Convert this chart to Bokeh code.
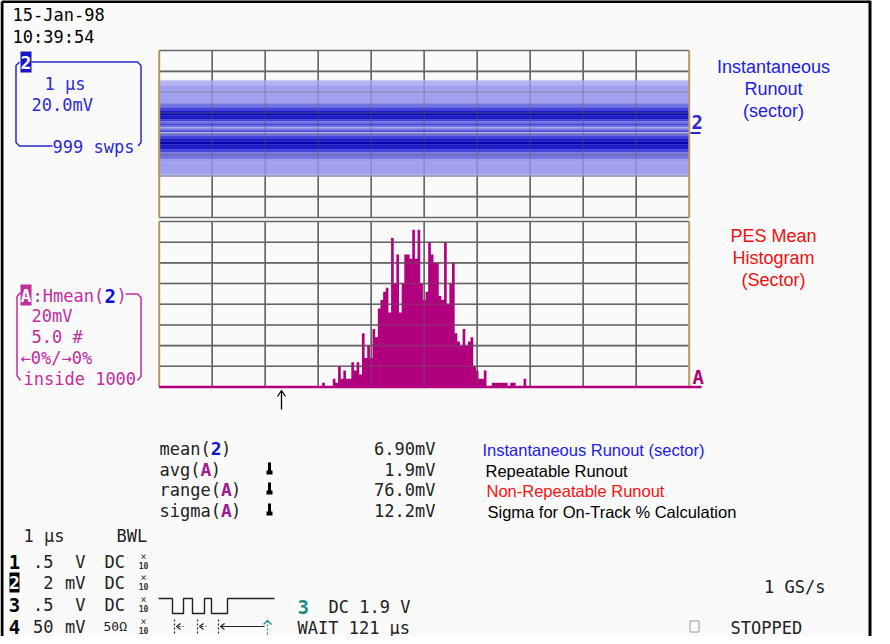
from bokeh.plotting import figure
from bokeh.models import Range1d, ColumnDataSource
from bokeh.core.properties import value
from bokeh.embed import file_html
from bokeh.resources import INLINE

# ---------------- data ----------------
# Histogram of channel-2 mean (bins in mV, counts)
hist_bins_mv = list(range(-38, 39))
hist_counts = [1, 0, 0, 0, 2, 1, 5, 2, 4, 2, 2, 6, 4, 6, 3, 13, 7, 10, 7, 14,
               12, 19, 21, 23, 24, 18, 36, 25, 32, 18, 25, 32, 32, 31, 38, 31, 38,
               25, 21, 23, 35, 32, 30, 30, 22, 21, 35,
               20, 25, 30, 13, 11, 10, 14, 10, 11, 12,
               5, 4, 2, 2, 4, 0, 0, 1, 1, 1,
               1, 1, 1, 0, 1, 1, 0, 0, 0, 2]
bin_width_mv = 1.0

# Persistence trace of channel 2 (mV bands, density level 0..6)
band_lo = [46.5, 38.8, 29.2, 25.5, 22.5, 19.5, 17.7, 13.9, 12.0, 10.1, 7.8, 6.2, 5.3, 3.3, 1.4, 0.5,
           -2.0, -4.3, -7.5, -10.1, -14.9, -17.5, -20.6, -24.0, -27.3, -38.8]
band_hi = [51.3, 46.5, 38.8, 29.2, 25.5, 22.5, 19.5, 17.7, 13.9, 12.0, 10.1, 7.8, 6.2, 5.3, 3.3, 1.4,
           0.5, -2.0, -4.3, -7.5, -10.1, -14.9, -17.5, -20.6, -24.0, -27.3]
band_density = [1, 2, 2, 3, 4, 5, 6, 5, 4, 3, 4, 3, 1, 3, 4, 0,
                3, 4, 5, 6, 5, 4, 3, 3, 2, 2]
edge_lo = [-40.7]
edge_hi = [-38.8]
sweep_t = [0.0, 10.0]  # µs

# Measurements
meas_names = ["mean(", "avg(", "range(", "sigma("]
meas_src = ["2", "A", "A", "A"]
meas_vals = ["6.90mV", "1.9mV", "76.0mV", "12.2mV"]
meas_notes = ["Instantaneous Runout (sector)", "Repeatable Runout",
              "Non-Repeatable Runout", "Sigma for On-Track % Calculation"]

# Channel setup table
ch_labels = ["1", "2", "3", "4"]
ch_scale = [".5", "2", ".5", "50"]
ch_units = ["V", "mV", "V", "mV"]
ch_coupling = ["DC", "DC", "DC", "50Ω"]

# ---------------- styles ----------------
MONO = "DejaVu Sans Mono"
SANS = "Liberation Sans"
BLUE_T = "#2a2ad2"
MAG_T = "#c22d9e"
MAG_BAR = "#b0007d"
GRID = "#676767"
TAN = "#b8975e"
density_palette = ["#d6d6f7", "#b4b4f3", "#a0a0ef", "#7474e2", "#4444d8", "#1c1cc8", "#0606ae"]

W, H = 882, 636
X0, Y0 = 8, 8

p = figure(width=W, height=H, x_range=Range1d(X0, X0 + W), y_range=Range1d(Y0 + H, Y0),
           output_backend="svg", toolbar_location=None, min_border=0,
           x_axis_location=None, y_axis_location=None)
p.grid.visible = False
p.outline_line_color = None
p.background_fill_color = "white"
p.border_fill_color = "white"


def lin_range(va, pa, vb, pb, pstart, pend):
    k = (vb - va) / (pb - pa)
    return Range1d(start=va + k * (pstart - pa), end=va + k * (pend - pa))


PL, PR = 166.7, 696.7
TOP_T, TOP_B = 58.0, 225.0
BOT_T, BOT_B = 229.0, 394.5
p.extra_x_ranges = {
    "t": lin_range(0, PL, 10, PR, X0, X0 + W),
    "mv": lin_range(-100, PL, 100, PR, X0, X0 + W),
}
p.extra_y_ranges = {
    "v": lin_range(-80, TOP_B, 80, TOP_T, Y0 + H, Y0),
    "n": lin_range(0, BOT_B, 40, BOT_T, Y0 + H, Y0),
}

# scope screen background + border
p.quad(left=[9], right=[878], top=[Y0], bottom=[Y0 + H], fill_color="#fafafa", line_color=None)
p.segment(x0=[9.5, 9.5, 877.5], y0=[Y0 + 1, Y0 + 1, Y0], x1=[877.5, 9.5, 877.5], y1=[Y0 + 1, Y0 + H, Y0 + H],
          line_color="black", line_width=3)


def text(x, y, s, color="black", size="17px", font=MONO, align="left", style="normal", baseline="middle"):
    p.text(x=[x], y=[y], text=[s], text_color=color, text_font_size=size,
           text_font=value(font), text_align=align, text_baseline=baseline, text_font_style=style)


def grid(xr, yr, xs, ys, x_lo, x_hi, y_lo, y_hi, alpha=1.0):
    p.segment(x0=xs, x1=xs, y0=[y_lo] * len(xs), y1=[y_hi] * len(xs), line_color=GRID,
              line_width=1.6, line_alpha=alpha, x_range_name=xr, y_range_name=yr)
    p.segment(x0=[x_lo] * len(ys), x1=[x_hi] * len(ys), y0=ys, y1=ys, line_color=GRID,
              line_width=1.6, line_alpha=alpha, x_range_name=xr, y_range_name=yr)


# ---------- top panel: persistence trace ----------
t_lines = list(range(0, 11))
v_lines = list(range(-80, 81, 20))
grid("t", "v", t_lines[1:-1], v_lines, 0, 10, -80, 80)
band_src = ColumnDataSource(dict(
    left=[sweep_t[0]] * len(band_lo), right=[sweep_t[1]] * len(band_lo),
    bottom=band_lo, top=band_hi, color=[density_palette[d] for d in band_density]))
p.quad(left="left", right="right", bottom="bottom", top="top", fill_color="color",
       line_color="color", line_width=0.3, source=band_src, x_range_name="t", y_range_name="v")
p.quad(left=[sweep_t[0]], right=[sweep_t[1]], bottom=edge_lo, top=edge_hi, fill_color=density_palette[1],
       line_color=None, x_range_name="t", y_range_name="v")
grid("t", "v", t_lines[1:-1], v_lines[1:-1], 0, 10, -80, 80, alpha=0.3)
p.segment(x0=[0, 10], x1=[0, 10], y0=[-80, -80], y1=[80, 80], line_color=TAN, line_width=2,
          x_range_name="t", y_range_name="v")
# channel marker
text(699, 129, "2", BLUE_T, "19px", style="bold")
p.segment(x0=[698], x1=[708], y0=[140.5], y1=[140.5], line_color=BLUE_T, line_width=2)

# ---------- bottom panel: histogram ----------
mv_lines = list(range(-100, 101, 20))
n_lines = list(range(0, 41, 5))
grid("mv", "n", mv_lines[1:-1], n_lines, -100, 100, 0, 40)
step_x = [b - bin_width_mv / 2 for b in hist_bins_mv] + [hist_bins_mv[-1] + bin_width_mv / 2]
step_y = hist_counts + [hist_counts[-1]]
p.varea_step(x=step_x, y1=[0] * len(step_x), y2=step_y, step_mode="after", fill_color=MAG_BAR,
             x_range_name="mv", y_range_name="n")
grid("mv", "n", mv_lines[1:-1], n_lines[1:-1], -100, 100, 0, 40, alpha=0.35)
p.segment(x0=[-100, 100], x1=[-100, 100], y0=[0, 0], y1=[40, 40], line_color=TAN, line_width=2,
          x_range_name="mv", y_range_name="n")
p.segment(x0=[-100], x1=[100], y0=[0], y1=[0], line_color=MAG_BAR, line_width=2.5,
          x_range_name="mv", y_range_name="n")
text(700, 384, "A", MAG_BAR, "19px", style="bold")
p.segment(x0=[696], x1=[709], y0=[394.5], y1=[394.5], line_color=MAG_BAR, line_width=2.5)
# cursor arrow
p.segment(x0=[289], x1=[289], y0=[399], y1=[417], line_color="black", line_width=1.3)
p.line(x=[285, 289, 293], y=[404, 398, 404], line_color="black", line_width=1.3)

# ---------- header ----------
text(20, 22, "15-Jan-98")
text(20, 44, "10:39:54")

# ---------- channel 2 box ----------
p.line(x=[39, 145, 148.5, 148.5, 145.5], y=[69.5, 69.5, 73, 150, 153.5], line_color=BLUE_T, line_width=1.5)
p.line(x=[60, 27, 23.5, 23.5, 27], y=[153.5, 153.5, 150, 73, 69.5], line_color=BLUE_T, line_width=1.5)
p.quad(left=[28], right=[39], top=[59], bottom=[80], fill_color="#1616c8", line_color=None)
text(33.5, 70, "2", "white", "18px", align="center", style="bold")
text(52, 91, "1 µs", BLUE_T)
text(39, 112, "20.0mV", BLUE_T)
text(60, 154, "999 swps", BLUE_T)

# ---------- Hmean box ----------
p.quad(left=[28], right=[39], top=[292], bottom=[313], fill_color=MAG_T, line_color=None)
text(33.5, 303, "A", "white", "18px", align="center", style="bold")
text(40, 303, ":Hmean(", MAG_T)
text(112, 303, "2", "#1010d0", "19px", style="bold")
text(124, 303, ")", MAG_T)
p.line(x=[133, 145, 148.5, 148.5, 145], y=[301.5, 301.5, 305, 384, 388], line_color=MAG_T, line_width=1.5)
p.line(x=[28, 24.5, 24.5, 28], y=[300, 304, 383, 388], line_color=MAG_T, line_width=1.5)
text(39, 323, "20mV", MAG_T)
text(39, 344, "5.0 #", MAG_T)
text(28, 365, "←0%/→0%", MAG_T)
text(31, 386, "inside 1000", MAG_T)

# ---------- right annotations ----------
for i, s in enumerate(["Instantaneous", "Runout", "(sector)"]):
    text(781, 74 + 22 * i, s, "#2020e6", "18px", SANS, "center")
for i, s in enumerate(["PES Mean", "Histogram", "(Sector)"]):
    text(781, 243 + 22 * i, s, "#f01010", "18px", SANS, "center")

# ---------- measurements ----------
row_y = [456, 477, 497, 518]
note_colors = ["#2020f0", "black", "#ff1010", "black"]
note_x = [490, 493, 494, 495]
CW = 10.23
for i in range(4):
    y = row_y[i]
    x = 167
    text(x, y, meas_names[i], "#222222")
    xs = x + CW * len(meas_names[i])
    src_col = "#1010d0" if meas_src[i] == "2" else "#a01a90"
    text(xs, y, meas_src[i], src_col, "18px", style="bold")
    text(xs + CW, y, ")", "#222222")
    if i > 0:
        p.quad(left=[275.5], right=[278.5], top=[y - 7], bottom=[y + 4], fill_color="black", line_color=None)
        p.quad(left=[274], right=[280], top=[y + 1], bottom=[y + 5], fill_color="black", line_color=None)
    text(443, y, meas_vals[i], "#222222", align="right")
    text(note_x[i], y + 1, meas_notes[i], note_colors[i], "16.5px", SANS)

# ---------- bottom-left channel table ----------
text(31, 543, "1 µs", "#222222")
text(124, 543, "BWL", "#222222")
ch_y = [569, 590, 612, 634]
for i in range(4):
    y = ch_y[i]
    if ch_labels[i] == "2":
        p.quad(left=[17], right=[27], top=[y - 10], bottom=[y + 10], fill_color="black", line_color=None)
        text(22, y, "2", "white", "18px", align="center", style="bold")
    else:
        text(22, y, ch_labels[i], "black", "19px", align="center", style="bold")
    text(61, y, ch_scale[i], "#222222", align="right")
    text(93, y, ch_units[i], "#222222", align="right")
    if ch_coupling[i] == "DC":
        text(112, y, "DC", "#222222")
    else:
        text(111, y, ch_coupling[i], "#222222", "13px")
    text(151, y - 5, "×", "#333333", "10px", align="center")
    text(151, y + 4, "10", "#333333", "8px", align="center", style="bold")

# trigger pattern
wave_x = [166, 180, 180, 191, 191, 200, 200, 212, 212, 219, 219, 235, 235, 282]
wave_y = [606, 606, 621, 621, 606, 606, 621, 621, 606, 606, 621, 621, 606, 606]
p.line(x=wave_x, y=wave_y, line_color="#222222", line_width=1.4)
p.segment(x0=[182, 205, 226], x1=[182, 205, 226], y0=[627, 627, 627], y1=[643, 643, 643],
          line_color="#222222", line_width=1.2, line_dash="2 2")
for ax in [182, 205, 226]:
    p.line(x=[ax + 6, ax + 2, ax + 6], y=[631, 634, 637], line_color="#222222", line_width=1.2)
p.segment(x0=[186, 209], x1=[191, 214], y0=[634, 634], y1=[634, 634], line_color="#222222",
          line_width=1.2, line_dash="2 2")
p.segment(x0=[228], x1=[272], y0=[634], y1=[634], line_color="#222222", line_width=1.2)
p.line(x=[271, 275, 279], y=[632, 628, 632], line_color="#1f8a8a", line_width=1.4)
p.segment(x0=[275], x1=[275], y0=[628], y1=[643], line_color="#1f8a8a", line_width=1.2, line_dash="2 2")
text(305, 614, "3", "#1f8a8a", "19px", style="bold")
text(336, 614, "DC 1.9 V", "#222222")
text(305, 635, "WAIT 121 µs", "#222222")

# bottom-right status
text(833, 594, "1 GS/s", "#222222", align="right")
p.quad(left=[697.5], right=[706.5], top=[628.5], bottom=[639.5], fill_color=None, line_color="#9a9a9a")
text(738, 635, "STOPPED", "#222222")

open("out.html", "w").write(file_html(p, INLINE))
